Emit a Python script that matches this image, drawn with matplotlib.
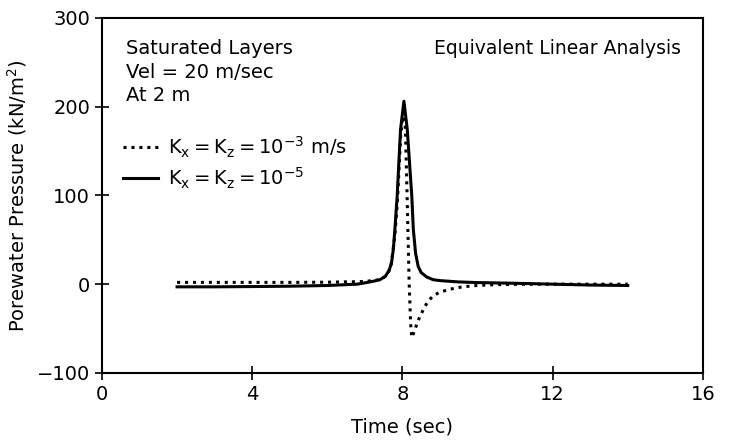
import matplotlib
matplotlib.use('Agg')
import matplotlib.pyplot as plt

# time (sec) and porewater pressure (kN/m^2)
t_k3 = [2.0, 3.0, 4.0, 5.0, 6.0, 7.0, 7.4, 7.6, 7.7, 7.8, 7.87, 7.95, 8.03, 8.08,
        8.13, 8.18, 8.22, 8.25, 8.3, 8.4, 8.47, 8.6, 8.69, 8.82, 9.0, 9.27, 9.6,
        9.98, 10.5, 11.5, 12.5, 14.0]
p_k3 = [2.0, 2.0, 2.0, 2.0, 2.2, 3.0, 5.0, 10.0, 22.0, 55.0, 95.0, 165.0, 198.0, 175.0,
        90.0, 0.0, -45.0, -60.0, -55.0, -43.0, -36.0, -25.0, -19.0, -13.0, -9.0, -5.6, -3.0,
        -1.5, -0.5, 0.0, 0.0, 0.0]

t_k5 = [2.0, 3.0, 4.0, 5.0, 6.0, 6.8, 7.2, 7.4, 7.55, 7.65, 7.71, 7.76, 7.8, 7.86,
        7.95, 8.04, 8.13, 8.2, 8.25, 8.29, 8.35, 8.42, 8.5, 8.65, 8.82, 9.0, 9.5,
        10.0, 11.0, 12.0, 13.0, 14.0]
p_k5 = [-3.0, -3.0, -2.7, -2.3, -1.5, 0.0, 3.0, 5.0, 9.0, 16.0, 24.0, 40.0, 62.0, 99.0,
        174.0, 206.0, 174.0, 130.0, 99.0, 62.0, 35.0, 20.0, 13.0, 8.0, 5.0, 4.0, 2.5,
        1.8, 1.0, 0.0, -1.0, -1.5]

xticks = [0, 4, 8, 12, 16]
yticks = [-100, 0, 100, 200, 300]

plt.rcParams['font.family'] = ['DejaVu Sans']
plt.rcParams['mathtext.fontset'] = 'dejavusans'

fig = plt.figure(figsize=(7.31, 4.44), dpi=100)
ax = fig.add_axes([0.1395, 0.160, 0.822, 0.800])

ax.plot(t_k3, p_k3, color='black', lw=2.2, linestyle=(0, (1, 1.6)),
        label=r'$\mathrm{K_x{=}K_z{=}10^{-3}}$ m/s')
ax.plot(t_k5, p_k5, color='black', lw=2.2, label=r'$\mathrm{K_x{=}K_z{=}10^{-5}}$')

ax.set_xlim(0, 16)
ax.set_ylim(-100, 300)
ax.set_xticks(xticks)
ax.set_yticks(yticks)
ax.tick_params(direction='inout', length=10, width=1.2, labelsize=14, top=False, right=False)
for s in ax.spines.values():
    s.set_linewidth(1.5)

ax.set_xlabel('Time (sec)', fontsize=14, labelpad=10)
ax.set_ylabel(r'Porewater Pressure (kN/m$^2$)', fontsize=14, labelpad=6)

ax.text(0.04, 0.913, 'Saturated Layers', transform=ax.transAxes, fontsize=14, va='center')
ax.text(0.04, 0.845, 'Vel = 20 m/sec', transform=ax.transAxes, fontsize=14, va='center')
ax.text(0.04, 0.780, 'At 2 m', transform=ax.transAxes, fontsize=14, va='center')
ax.text(0.553, 0.913, 'Equivalent Linear Analysis', transform=ax.transAxes, fontsize=13.5, va='center')

ax.legend(loc='upper left', bbox_to_anchor=(0.012, 0.71), frameon=False, fontsize=14,
          handlelength=1.8, handletextpad=0.5, labelspacing=0.3, borderaxespad=0.3)

fig.savefig('out.png', dpi=100)
